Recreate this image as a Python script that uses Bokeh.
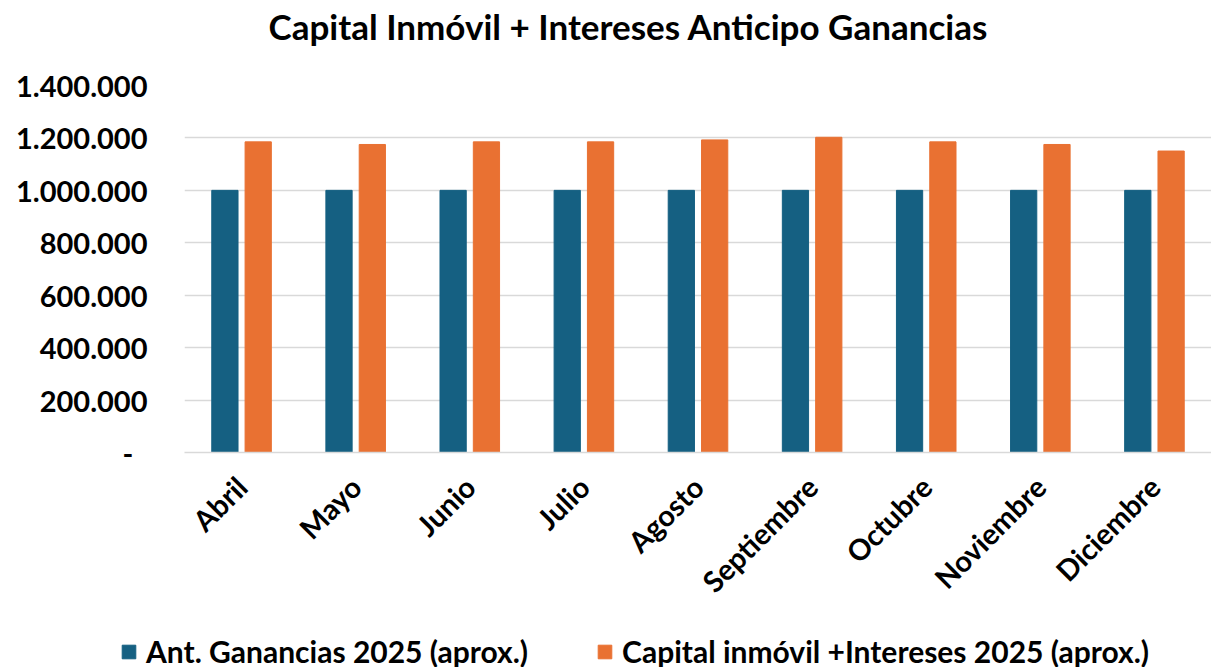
from bokeh.plotting import figure
from bokeh.layouts import column, row
from bokeh.models import (FactorRange, FixedTicker, CustomJSTickFormatter, Legend, LegendItem,
                          ColumnDataSource, Label)
from bokeh.transform import dodge
from bokeh.embed import file_html
from bokeh.resources import INLINE
import math

months = ["Abril", "Mayo", "Junio", "Julio", "Agosto", "Septiembre", "Octubre", "Noviembre", "Diciembre"]
ant_ganancias = [1000000, 1000000, 1000000, 1000000, 1000000, 1000000, 1000000, 1000000, 1000000]
capital_intereses = [1185000, 1175000, 1185000, 1185000, 1192500, 1202500, 1185000, 1175000, 1150000]
y_ticks = [0, 200000, 400000, 600000, 800000, 1000000, 1200000, 1400000]

title_text = "Capital Inmóvil + Intereses Anticipo Ganancias"
series_names = ["Ant. Ganancias 2025 (aprox.)", "Capital inmóvil +Intereses 2025 (aprox.)"]
colors = ["#156082", "#E97132"]
FONT = "Lato"
W = 1211


def blank(height):
    f = figure(width=W, height=height, x_range=(0, W), y_range=(0, height),
               output_backend="svg", toolbar_location=None,
               x_axis_location=None, y_axis_location=None,
               min_border_left=0, min_border_right=0, min_border_top=0, min_border_bottom=0)
    f.xgrid.grid_line_color = None
    f.ygrid.grid_line_color = None
    f.outline_line_color = None
    f.title.text = ""
    return f


# ---- title strip ----
ft = blank(60)
ft.add_layout(Label(x=628, y=35, text=title_text, text_align="center", text_baseline="middle",
                    text_font=FONT, text_font_style="bold", text_font_size="35px",
                    text_color="#000000"))

# ---- main chart ----
src = ColumnDataSource(dict(month=months, a=ant_ganancias, b=capital_intereses))

p = figure(x_range=FactorRange(*months), y_range=(0, 1400000),
           frame_width=1027, frame_height=367, output_backend="svg", toolbar_location=None,
           min_border_left=184, min_border_right=0, min_border_top=25, min_border_bottom=160)
p.title.text = ""

r1 = p.vbar(x=dodge("month", -0.146, range=p.x_range), top="a", width=0.23, source=src,
            fill_color=colors[0], line_color=colors[0])
r2 = p.vbar(x=dodge("month", 0.146, range=p.x_range), top="b", width=0.23, source=src,
            fill_color=colors[1], line_color=colors[1])

p.outline_line_color = None
p.xgrid.grid_line_color = None
p.ygrid.grid_line_color = "#D9D9D9"
p.ygrid.grid_line_width = 1.5

p.yaxis.ticker = FixedTicker(ticks=y_ticks)
p.yaxis.formatter = CustomJSTickFormatter(code="""
if (tick == 0) { return "-\u00a0\u00a0"; }
return tick.toFixed(0).replace(/\\B(?=(\\d{3})+(?!\\d))/g, ".");
""")
p.yaxis.axis_line_color = None
p.yaxis.major_tick_line_color = None
p.yaxis.minor_tick_line_color = None
p.yaxis.major_label_text_font = FONT
p.yaxis.major_label_text_font_style = "bold"
p.yaxis.major_label_text_font_size = "29px"
p.yaxis.major_label_text_color = "#000000"
p.yaxis.major_label_standoff = 31

p.xaxis.axis_line_color = "#D9D9D9"
p.xaxis.axis_line_width = 1.5
p.xaxis.major_tick_line_color = None
p.xaxis.minor_tick_line_color = None
p.xaxis.major_label_orientation = math.pi / 4
p.xaxis.major_label_text_font = FONT
p.xaxis.major_label_text_font_style = "bold"
p.xaxis.major_label_text_font_size = "29px"
p.xaxis.major_label_text_color = "#000000"
p.xaxis.major_label_standoff = 23

# ---- legend strip ----
fl = blank(55)
swatch = ColumnDataSource(dict(x=[float("nan")], top=[float("nan")]))
l1 = fl.vbar(x="x", top="top", width=1, source=swatch, fill_color=colors[0], line_color=colors[0])
l2 = fl.vbar(x="x", top="top", width=1, source=swatch, fill_color=colors[1], line_color=colors[1])
legend = Legend(items=[LegendItem(label=series_names[0], renderers=[l1]),
                       LegendItem(label=series_names[1], renderers=[l2])],
                orientation="horizontal", location=(120, 0),
                label_text_font=FONT, label_text_font_style="bold", label_text_font_size="30px",
                label_text_color="#000000", glyph_width=17, glyph_height=17,
                label_standoff=9, spacing=68, padding=0, margin=0,
                border_line_color=None, background_fill_alpha=0)
fl.add_layout(legend)

layout = column(row(ft), p, row(fl), spacing=0)
open("out.html", "w").write(file_html(layout, INLINE))
